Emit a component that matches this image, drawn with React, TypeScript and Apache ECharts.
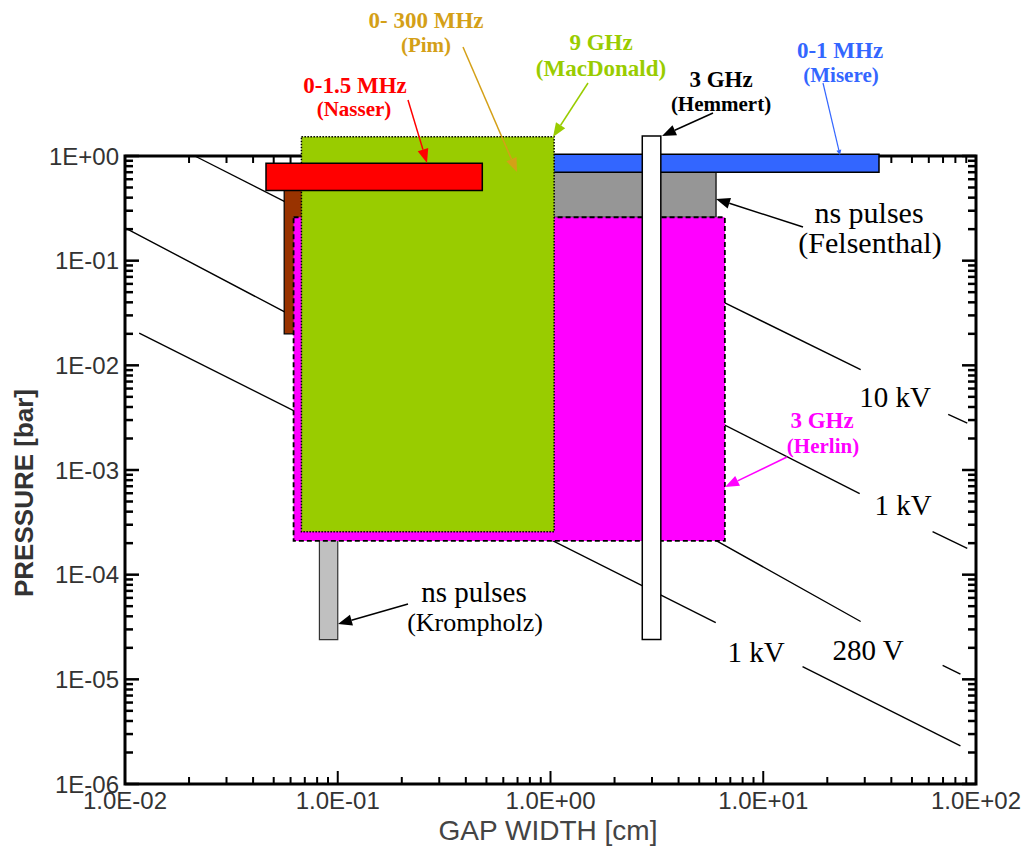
import React, { useEffect, useRef } from "react";
import * as echarts from "echarts";

// ---------- axis ticks ----------
const xTickLabels = ["1.0E-02", "1.0E-01", "1.0E+00", "1.0E+01", "1.0E+02"];
const yTickLabels = ["1E-06", "1E-05", "1E-04", "1E-03", "1E-02", "1E-01", "1E+00"];
const xDecades = [0.01, 0.1, 1, 10, 100];
const yDecades = [1e-6, 1e-5, 1e-4, 1e-3, 1e-2, 1e-1, 1];
const minorMultipliers = [2, 3, 4, 5, 6, 7, 8, 9];

// ---------- operating regions (gap width [cm], pressure [bar]) ----------
const boxNames = ["DC", "Krompholz", "Felsenthal", "Herlin", "Misere", "MacDonald", "Nasser", "Hemmert"];
const boxGapMin = [0.056, 0.082, 0.5, 0.062, 0.5, 0.0675, 0.046, 2.7];
const boxGapMax = [0.075, 0.1, 6.0, 6.6, 35, 1.04, 0.478, 3.3];
const boxPressureMin = [0.02, 2.4e-5, 0.26, 2.1e-4, 0.7, 2.57e-4, 0.467, 2.4e-5];
const boxPressureMax = [0.5, 3e-4, 0.7, 0.26, 1.04, 1.53, 0.852, 1.55];

// ---------- iso-voltage lines, visible segments of [gap, pressure] ----------
const iso10kV = [
  [[6.6, 0.0395], [28.7, 9.1e-3]],
  [[74, 3.4e-3], [91, 2.8e-3]],
];
const iso1kVUpper = [
  [[0.0213, 1.0], [28.4, 5.95e-4]],
  [[62.5, 2.58e-4], [91, 1.78e-4]],
];
const iso280V = [
  [[0.01, 0.206], [0.0557, 0.0327], [5.98, 2.13e-4], [28.7, 3.57e-5]],
  [[69.7, 1.36e-5], [84.5, 1.12e-5]],
];
const iso1kVLower = [
  [[0.01166, 0.0203], [5.98, 3.48e-5]],
  [[15.3, 1.32e-5], [84.5, 2.31e-6]],
];

// ---------- styles ----------
const boxStyles: Record<string, any> = {
  DC: { fill: "#993300", stroke: "#000", lineWidth: 1.2 },
  Krompholz: { fill: "#C0C0C0", stroke: "#333", lineWidth: 1.2 },
  Felsenthal: { fill: "#969696", stroke: "#000", lineWidth: 1.2 },
  Herlin: { fill: "#FF00FF", stroke: "#000", lineWidth: 1.8, lineDash: [5, 3] },
  Misere: { fill: "#3366FF", stroke: "#000", lineWidth: 1.5 },
  MacDonald: { fill: "#99CC00", stroke: "#000", lineWidth: 1.5, lineDash: [1.5, 1.5] },
  Nasser: { fill: "#FF0000", stroke: "#000", lineWidth: 1.5 },
  Hemmert: { fill: "#FFFFFF", stroke: "#000", lineWidth: 1.5 },
};

const SERIF = '"Liberation Serif", "Times New Roman", serif';
const SANS = '"Liberation Sans", Arial, sans-serif';

function txt(text: string, x: number, y: number, size: number, color: string, bold: boolean) {
  return {
    type: "text",
    x,
    y,
    z: 100,
    silent: true,
    style: {
      text,
      fill: color,
      fontSize: size,
      fontWeight: bold ? "bold" : "normal",
      fontFamily: SERIF,
      align: "center",
      verticalAlign: "middle",
    },
  };
}

function arrow(x1: number, y1: number, x2: number, y2: number, color: string, len = 14, w = 11, lw = 1.5) {
  const a = Math.atan2(y2 - y1, x2 - x1);
  const bx = x2 - len * Math.cos(a);
  const by = y2 - len * Math.sin(a);
  const px = (-Math.sin(a) * w) / 2;
  const py = (Math.cos(a) * w) / 2;
  return {
    type: "group",
    z: 100,
    silent: true,
    children: [
      { type: "line", z: 100, shape: { x1, y1, x2: bx, y2: by }, style: { stroke: color, lineWidth: lw } },
      {
        type: "polygon",
        z: 100,
        shape: { points: [[x2, y2], [bx + px, by + py], [bx - px, by - py]] },
        style: { fill: color },
      },
    ],
  };
}

export default function App() {
  const ref = useRef<HTMLDivElement>(null);

  useEffect(() => {
    if (!ref.current) return;
    const chart = echarts.init(ref.current, null, { renderer: "svg" });

    const xTicks: { v: number; major: boolean }[] = [];
    xDecades.forEach((d, i) => {
      xTicks.push({ v: d, major: true });
      if (i < xDecades.length - 1) minorMultipliers.forEach((m) => xTicks.push({ v: m * d, major: false }));
    });
    const yTicks: { v: number; major: boolean }[] = [];
    yDecades.forEach((d, i) => {
      yTicks.push({ v: d, major: true });
      if (i < yDecades.length - 1) minorMultipliers.forEach((m) => yTicks.push({ v: m * d, major: false }));
    });

    const lineSeries: any[] = [];
    [iso10kV, iso1kVUpper, iso280V, iso1kVLower].forEach((segs) => {
      segs.forEach((seg) => {
        lineSeries.push({
          type: "line",
          data: seg,
          showSymbol: false,
          symbol: "none",
          silent: true,
          lineStyle: { color: "#000", width: 1.4 },
          z: 3,
        });
      });
    });

    const boxData = boxNames.map((n, i) => [boxGapMin[i], boxGapMax[i], boxPressureMin[i], boxPressureMax[i]]);

    const option: any = {
      animation: false,
      backgroundColor: "#fff",
      grid: {
        left: 125,
        top: 156,
        width: 851,
        height: 628,
        show: true,
        borderColor: "#000",
        borderWidth: 3,
        backgroundColor: "transparent",
      },
      xAxis: {
        type: "log",
        logBase: 10,
        min: 0.01,
        max: 100,
        splitNumber: 4,
        axisLine: { show: false },
        axisTick: { show: false },
        splitLine: { show: false },
        axisLabel: {
          margin: 4,
          fontSize: 24,
          fontFamily: SANS,
          color: "#333",
          formatter: (v: number) => xTickLabels[Math.round(Math.log10(v)) + 2] ?? "",
        },
      },
      yAxis: {
        type: "log",
        logBase: 10,
        min: 1e-6,
        max: 1,
        splitNumber: 6,
        axisLine: { show: false },
        axisTick: { show: false },
        splitLine: { show: false },
        axisLabel: {
          margin: 6,
          fontSize: 24,
          fontFamily: SANS,
          color: "#333",
          formatter: (v: number) => yTickLabels[Math.round(Math.log10(v)) + 6] ?? "",
        },
      },
      series: [
        {
          type: "custom",
          silent: true,
          z: 1,
          data: [[1, 0.001]],
          renderItem: (params: any, api: any) => {
            const cs = params.coordSys;
            const left = cs.x, top = cs.y, right = cs.x + cs.width, bottom = cs.y + cs.height;
            const children: any[] = [];
            xTicks.forEach((t) => {
              const x = api.coord([t.v, 1])[0];
              const len = t.major ? 13 : 7;
              children.push({ type: "line", shape: { x1: x, y1: bottom, x2: x, y2: bottom - len }, style: { stroke: "#000", lineWidth: 2 } });
              children.push({ type: "line", shape: { x1: x, y1: top, x2: x, y2: top + len }, style: { stroke: "#000", lineWidth: 2 } });
            });
            yTicks.forEach((t) => {
              const y = api.coord([1, t.v])[1];
              const len = t.major ? 14 : 8;
              children.push({ type: "line", shape: { x1: left, y1: y, x2: left + len, y2: y }, style: { stroke: "#000", lineWidth: 2.5 } });
              children.push({ type: "line", shape: { x1: right, y1: y, x2: right - len, y2: y }, style: { stroke: "#000", lineWidth: 2.5 } });
            });
            return { type: "group", children };
          },
        },
        ...lineSeries,
        {
          type: "custom",
          silent: true,
          z: 5,
          clip: false,
          data: boxData,
          encode: { x: [0, 1], y: [2, 3] },
          renderItem: (params: any, api: any) => {
            const name = boxNames[params.dataIndex];
            const p0 = api.coord([api.value(0), api.value(3)]);
            const p1 = api.coord([api.value(1), api.value(2)]);
            const s = boxStyles[name];
            return {
              type: "rect",
              shape: { x: p0[0], y: p0[1], width: p1[0] - p0[0], height: p1[1] - p0[1] },
              style: { fill: s.fill, stroke: s.stroke, lineWidth: s.lineWidth, lineDash: s.lineDash },
            };
          },
        },
      ],
      graphic: [
        // axis titles
        {
          type: "text",
          x: 24,
          y: 493,
          rotation: Math.PI / 2,
          z: 100,
          style: {
            text: "PRESSURE [bar]",
            fill: "#333",
            fontSize: 26,
            fontWeight: "bold",
            fontFamily: SANS,
            align: "center",
            verticalAlign: "middle",
          },
        },
        {
          type: "text",
          x: 548,
          y: 830,
          z: 100,
          style: {
            text: "GAP WIDTH [cm]",
            fill: "#444",
            fontSize: 28,
            fontFamily: SANS,
            align: "center",
            verticalAlign: "middle",
          },
        },
        // annotations
        txt("0-1.5 MHz", 355, 85, 23, "#FF0000", true),
        txt("(Nasser)", 354, 109, 21, "#FF0000", true),
        arrow(408, 100, 427, 163, "#FF0000"),
        txt("0- 300 MHz", 426, 20, 23, "#D4A017", true),
        txt("(Pim)", 426, 45, 21, "#D4A017", true),
        arrow(463, 47, 517, 172, "#D4A017"),
        txt("9 GHz", 601, 42, 23, "#99CC00", true),
        txt("(MacDonald)", 601, 68, 23, "#99CC00", true),
        arrow(588, 83, 553, 137, "#99CC00"),
        txt("3 GHz", 721, 79, 23, "#000", true),
        txt("(Hemmert)", 721, 104, 21, "#000", true),
        arrow(713, 113, 662, 136, "#000"),
        txt("0-1 MHz", 840, 50, 23, "#3366FF", true),
        txt("(Misere)", 841, 75, 21, "#3366FF", true),
        arrow(823, 83, 840, 155, "#3366FF", 5, 5, 1.2),
        txt("ns pulses", 869, 212, 30, "#000", false),
        txt("(Felsenthal)", 870, 242, 30, "#000", false),
        arrow(803, 227, 716, 199, "#000"),
        txt("3 GHz", 822, 420, 23, "#FF00FF", true),
        txt("(Herlin)", 823, 446, 21, "#FF00FF", true),
        arrow(787, 457, 725, 487, "#FF00FF"),
        txt("ns pulses", 474, 592, 29, "#000", false),
        txt("(Krompholz)", 475, 622, 26, "#000", false),
        arrow(408, 604, 338, 624, "#000"),
        txt("10 kV", 895, 397, 29, "#000", false),
        txt("1 kV", 903, 505, 29, "#000", false),
        txt("1 kV", 756, 652, 29, "#000", false),
        txt("280 V", 868, 650, 29, "#000", false),
      ],
    };

    chart.setOption(option);
    return () => chart.dispose();
  }, []);

  return (
    <div
      ref={ref}
      style={{ position: "fixed", left: 0, top: 0, width: 1031, height: 857, background: "#fff" }}
    />
  );
}
